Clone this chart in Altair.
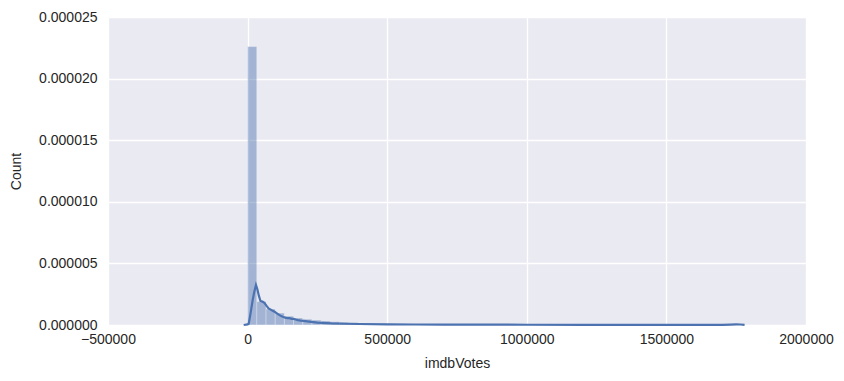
import altair as alt
import pandas as pd

# Histogram (density) of imdbVotes
bin_width = 32926
hist_density = [22.6, 1.9, 1.3, 0.97, 0.72, 0.57, 0.47, 0.40, 0.33, 0.27,
                0.23, 0.20, 0.17, 0.14, 0.12, 0.10, 0.09, 0.08, 0.07, 0.06,
                0.05, 0.045, 0.04, 0.035, 0.03, 0.028, 0.025, 0.022, 0.02, 0.018,
                0.016, 0.014, 0.012, 0.011, 0.01, 0.009, 0.008, 0.007, 0.006, 0.006,
                0.005, 0.005, 0.004, 0.004, 0.003, 0.003, 0.003, 0.002, 0.002, 0.002,
                0.002, 0.004, 0.006, 0.003]
hist_density = [v * 1e-6 for v in hist_density]
bin_start = [i * bin_width for i in range(len(hist_density))]
bin_end = [s + bin_width for s in bin_start]

# KDE curve
kde_x = [-14000, 0, 4000, 11000, 18000, 24000, 30000, 35000, 40000, 46000, 53000, 60000,
         68000, 75000, 83000, 90000, 98000, 105000, 113000, 120000, 128000, 135000,
         143000, 150000, 158000, 165000, 172000, 180000, 190000, 200000, 220000,
         250000, 300000, 350000, 400000, 500000, 600000, 700000, 800000, 1000000,
         1200000, 1400000, 1600000, 1700000, 1730000, 1750000, 1765000, 1780000]
kde_y = [0.0, 0.05, 0.1, 1.0, 2.0, 2.7, 3.25, 2.9, 2.4, 1.95, 1.9, 1.8,
         1.55, 1.35, 1.25, 1.15, 1.05, 0.95, 0.82, 0.72, 0.65, 0.6,
         0.55, 0.55, 0.5, 0.5, 0.45, 0.4, 0.36, 0.33, 0.28,
         0.2, 0.13, 0.1, 0.08, 0.05, 0.04, 0.035, 0.03, 0.02,
         0.015, 0.012, 0.01, 0.012, 0.03, 0.05, 0.04, 0.01]
kde_y = [v * 1e-6 for v in kde_y]

x_ticks = [-500000, 0, 500000, 1000000, 1500000, 2000000]
y_ticks = [0.0, 0.000005, 0.00001, 0.000015, 0.00002, 0.000025]

hist_df = pd.DataFrame({"start": bin_start, "end": bin_end, "density": hist_density})
kde_df = pd.DataFrame({"x": kde_x, "y": kde_y})

FONT = "Liberation Sans"
TXT = "#262626"
BLUE = "#4C72B0"

xscale = alt.Scale(domain=[-500000, 2000000], nice=False, zero=False)
yscale = alt.Scale(domain=[0, 0.000025], nice=False)

xaxis = alt.Axis(values=x_ticks, format="d", title="imdbVotes", grid=True,
                 gridColor="white", gridWidth=1.3, domain=False, ticks=False,
                 labelPadding=7, labelFont=FONT, labelFontSize=14, labelColor=TXT,
                 titleFont=FONT, titleFontSize=14, titleColor=TXT, titleFontWeight="normal",
                 titlePadding=10, labelFlush=False)
yaxis = alt.Axis(values=y_ticks, format=".6f", title="Count", grid=True,
                 gridColor="white", gridWidth=1.3, domain=False, ticks=False,
                 labelPadding=11, labelFont=FONT, labelFontSize=14, labelColor=TXT,
                 titleFont=FONT, titleFontSize=14, titleColor=TXT, titleFontWeight="normal",
                 titlePadding=15, labelFlush=False)

bars = alt.Chart(hist_df).mark_rect(color=BLUE, opacity=0.45, stroke="white",
                                    strokeWidth=0.8, strokeOpacity=0.5).encode(
    x=alt.X("start:Q", scale=xscale, axis=xaxis),
    x2="end:Q",
    y=alt.Y("density:Q", scale=yscale, axis=yaxis),
    y2=alt.datum(0),
)

kde = alt.Chart(kde_df).mark_line(color=BLUE, strokeWidth=2.2).encode(
    x=alt.X("x:Q", scale=xscale),
    y=alt.Y("y:Q", scale=yscale),
)

chart = alt.layer(bars, kde).properties(
    width=698, height=308,
    autosize=alt.AutoSizeParams(type="none"),
    padding={"left": 108, "top": 17, "right": 38, "bottom": 56},
    background="white",
).configure_view(fill="#EAEAF2", stroke=None)

chart.save("out.html", embed_options={"renderer": "svg", "actions": False})
